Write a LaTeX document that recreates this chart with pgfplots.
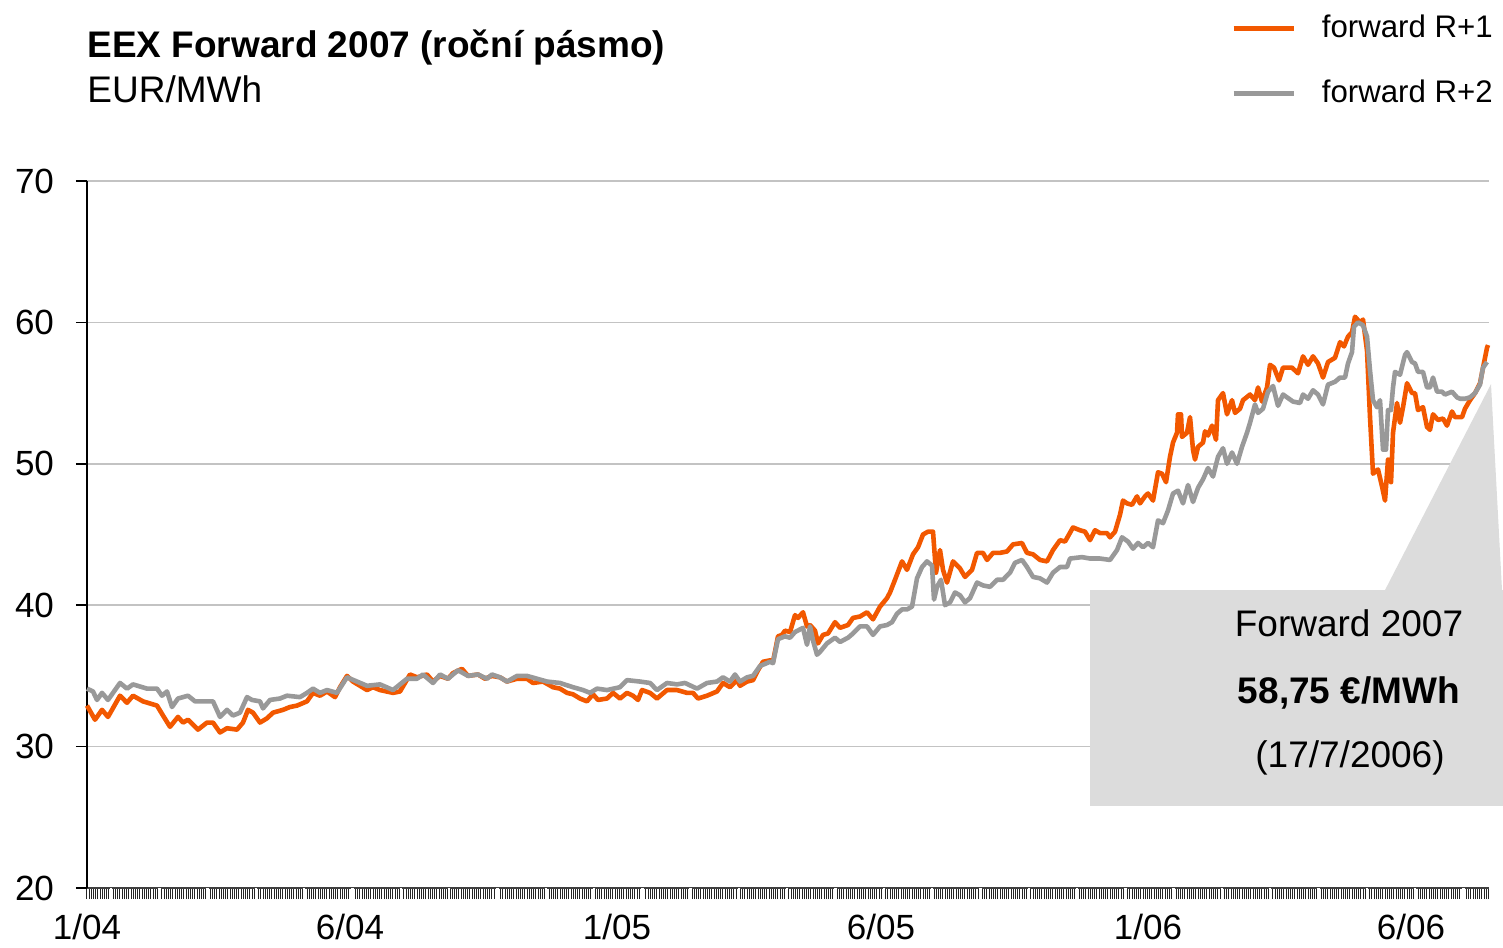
\documentclass[border=0pt]{standalone}
\usepackage{pgfplots}
\pgfplotsset{compat=1.18}
\usepackage{pgfplotstable}
\usepackage{fontspec}
\setmainfont{Liberation Sans}
\definecolor{fwdorange}{RGB}{242,88,0}
\definecolor{fwdgrey}{RGB}{153,153,153}
\definecolor{boxgrey}{RGB}{220,220,220}
\definecolor{gridgrey}{RGB}{195,195,195}

% x = trading-day position along the axis (index scale), y = EUR/MWh
\pgfplotstableread{
x y
87 32.9
95 31.9
102 32.6
108 32.1
120 33.6
127 33.1
133 33.6
143 33.2
157 32.9
163 32.2
170 31.4
178 32.1
183 31.7
188 31.9
198 31.2
207 31.7
213 31.7
220 31.0
227 31.3
237 31.2
243 31.7
248 32.6
253 32.4
260 31.7
267 32.0
273 32.4
283 32.6
290 32.8
297 32.9
307 33.2
313 33.8
320 33.6
327 33.9
335 33.5
340 34.2
347 35.0
353 34.6
367 34.0
373 34.2
380 34.0
393 33.8
400 33.9
410 35.1
417 34.9
427 35.1
433 34.6
440 35.0
448 34.8
453 35.2
462 35.5
468 35.0
478 35.1
485 34.8
492 35.0
500 34.9
507 34.6
517 34.8
527 34.8
533 34.5
543 34.6
553 34.2
560 34.1
567 33.8
573 33.7
580 33.4
587 33.2
593 33.7
598 33.3
607 33.4
613 33.8
620 33.4
627 33.8
633 33.6
638 33.3
642 34.0
650 33.8
657 33.4
667 34.0
677 34.0
687 33.8
693 33.8
698 33.4
707 33.6
717 33.9
723 34.5
730 34.2
737 34.7
740 34.3
747 34.6
753 34.7
758 35.4
763 36.0
770 36.1
773 36.0
778 37.8
782 37.9
785 38.2
790 38.1
795 39.3
798 39.1
803 39.5
807 38.5
810 38.6
815 38.2
818 37.3
823 37.9
828 38.0
835 38.8
840 38.4
848 38.6
853 39.1
860 39.2
867 39.5
873 39.0
880 39.9
887 40.5
890 40.9
895 41.8
902 43.1
907 42.5
913 43.6
918 44.1
923 45.0
928 45.2
933 45.2
936 42.3
940 43.9
943 42.5
947 41.6
953 43.1
960 42.6
965 42.0
972 42.5
977 43.7
983 43.7
987 43.2
993 43.7
1000 43.7
1007 43.8
1013 44.3
1022 44.4
1027 43.7
1033 43.6
1040 43.2
1047 43.1
1053 43.9
1060 44.6
1065 44.5
1069 45.0
1073 45.5
1080 45.3
1085 45.2
1090 44.6
1095 45.3
1100 45.1
1107 45.1
1110 44.8
1115 45.2
1120 46.4
1123 47.4
1127 47.2
1132 47.1
1137 47.7
1140 47.2
1145 47.7
1148 47.9
1153 47.4
1158 49.4
1162 49.3
1166 48.7
1170 50.5
1173 51.5
1177 52.2
1178 53.5
1181 53.5
1182 51.9
1187 52.2
1190 53.3
1193 51.0
1195 50.3
1198 51.2
1203 51.5
1205 52.3
1208 52.0
1212 52.7
1216 51.7
1218 54.5
1223 55.0
1227 53.5
1232 54.5
1235 53.6
1240 53.9
1243 54.5
1250 54.9
1255 54.5
1258 55.4
1262 54.4
1267 55.4
1270 57.0
1274 56.8
1279 55.9
1283 56.8
1292 56.8
1298 56.4
1303 57.6
1308 57.0
1313 57.6
1318 57.1
1323 56.1
1328 57.2
1335 57.5
1340 58.6
1344 58.3
1348 59.0
1352 59.3
1355 60.4
1360 60.0
1363 60.2
1367 58.0
1370 53.3
1373 49.3
1378 49.6
1382 48.4
1385 47.4
1388 50.3
1391 48.7
1393 52.2
1397 54.3
1400 52.9
1403 54.0
1407 55.7
1412 55.0
1415 55.0
1418 53.8
1423 54.0
1427 52.6
1430 52.4
1433 53.5
1438 53.1
1443 53.2
1447 52.7
1452 53.7
1455 53.3
1462 53.3
1465 53.9
1470 54.5
1475 55.0
1480 55.7
1483 56.8
1487 58.2
1488 58.4
}\rone

\pgfplotstableread{
x y
87 34.1
93 33.9
97 33.3
102 33.8
108 33.3
120 34.5
127 34.1
133 34.4
147 34.1
157 34.1
162 33.6
167 33.9
172 32.8
178 33.4
188 33.6
195 33.2
205 33.2
213 33.2
220 32.1
227 32.6
233 32.2
240 32.4
247 33.5
252 33.3
260 33.2
263 32.7
270 33.3
280 33.4
287 33.6
300 33.5
307 33.8
313 34.1
320 33.8
327 34.0
337 33.8
347 34.9
357 34.6
367 34.3
380 34.4
393 34.0
407 34.8
417 34.8
423 35.1
433 34.5
440 35.1
448 34.8
458 35.4
468 35.0
478 35.1
487 34.8
492 35.1
500 34.9
507 34.6
517 35.0
527 35.0
537 34.8
547 34.6
560 34.5
573 34.2
583 34.0
590 33.8
597 34.1
607 34.0
620 34.2
627 34.7
640 34.6
650 34.5
657 34.0
667 34.5
677 34.4
685 34.5
697 34.1
707 34.5
717 34.6
723 34.9
730 34.6
735 35.1
740 34.6
747 34.9
753 35.0
760 35.7
770 36.0
773 35.9
778 37.6
785 37.8
790 37.7
795 38.1
803 38.4
807 37.2
810 38.5
813 37.5
817 36.5
820 36.7
827 37.3
835 37.7
840 37.4
848 37.7
853 38.0
860 38.5
867 38.5
873 37.9
880 38.5
887 38.6
892 38.8
897 39.4
902 39.7
907 39.7
912 39.9
917 41.9
922 42.7
927 43.1
932 42.8
934 40.4
937 41.3
941 41.8
945 40.0
950 40.2
955 40.9
960 40.7
965 40.2
970 40.5
977 41.6
983 41.4
990 41.3
997 41.8
1003 41.8
1010 42.3
1015 43.0
1022 43.2
1027 42.7
1033 42.0
1040 41.9
1047 41.6
1053 42.3
1060 42.7
1067 42.7
1070 43.3
1082 43.4
1090 43.3
1100 43.3
1110 43.2
1117 43.9
1122 44.8
1128 44.5
1133 44.0
1138 44.4
1143 44.1
1148 44.4
1153 44.1
1158 46.0
1163 45.8
1168 46.7
1173 47.9
1178 48.1
1183 47.2
1188 48.5
1193 47.3
1198 48.3
1203 48.9
1208 49.7
1213 49.1
1218 50.5
1223 51.1
1227 50.0
1232 50.8
1237 50.0
1242 51.2
1247 52.2
1250 52.9
1255 54.2
1258 53.6
1263 53.9
1268 55.1
1273 55.5
1278 54.1
1283 54.9
1293 54.4
1300 54.3
1303 54.9
1308 54.6
1313 55.2
1318 54.9
1323 54.2
1328 55.6
1335 55.8
1340 56.1
1345 56.1
1348 57.1
1352 57.9
1354 59.7
1358 60.0
1363 59.8
1367 59.0
1370 56.6
1373 54.5
1377 54.0
1380 54.5
1383 51.0
1386 51.0
1388 53.8
1391 53.8
1393 55.4
1395 56.5
1400 56.3
1405 57.7
1407 57.9
1412 57.2
1415 57.1
1418 56.5
1423 56.5
1427 55.4
1430 55.4
1433 56.1
1437 55.1
1442 55.1
1445 54.9
1452 55.1
1457 54.7
1460 54.6
1465 54.6
1470 54.7
1475 55.0
1480 55.6
1483 56.8
1487 57.2
}\rtwo

\begin{document}
\begin{tikzpicture}
\begin{axis}[
  at={(0pt,0pt)}, anchor=south west,
  scale only axis, width=701pt, height=353.5pt,
  xmin=87, xmax=1489, ymin=20, ymax=70,
  clip=false,
  axis lines*=left,
  x axis line style={black!75, line width=0.9pt},
  y axis line style={black, line width=0.8pt},
  ytick={20,30,...,70},
  ymajorgrids, grid style={gridgrey, line width=0.8pt},
  tick align=outside,
  major tick length=5.5pt,
  minor tick length=5.6pt,
  y tick style={black, line width=0.8pt},
  xtick={87,350,617,881,1148,1411},
  xticklabels={1/04,6/04,1/05,6/05,1/06,6/06},
  major x tick style={draw=none},
  minor xtick={87,89.2,...,1489},
  minor x tick style={black!85, line width=0.5pt},
  extra x ticks={111,159.3,...,1464},
  extra x tick labels={},
  extra x tick style={grid=none, major x tick style={draw=white, line width=1.2pt}},
  tick label style={font=\fontsize{17.5}{21}\selectfont},
  /pgf/number format/assume math mode=true,
  yticklabel style={xshift=-7.5pt},
  xticklabel style={yshift=-4pt},
  legend style={at={(rel axis cs:0.8160,1.2353)}, anchor=north west,
    draw=none, fill=none, inner sep=0pt, outer sep=0pt,
    font=\fontsize{15.6}{18}\selectfont, row sep=18.3pt,
    nodes={inner sep=0pt, text height=11.2pt, text depth=3pt}},
  legend cell align=left,
  legend image code/.code={\draw[#1, line width=2.5pt] (0pt,0pt) -- (30pt,0pt); \path (43pt,0pt);},
]
\fill[boxgrey] (axis cs:1090,25.80) -- (axis cs:1090,41.07) -- (axis cs:1385,41.07)
  -- (axis cs:1491,55.64) -- (axis cs:1502,41.07) -- (axis cs:1515,41.07)
  -- (axis cs:1515,25.80) -- cycle;
\addplot[fwdorange, line width=2.3pt, line join=round] table[x=x,y=y] {\rone};
\addlegendentry{forward R+1}
\addplot[fwdgrey, line width=2.3pt, line join=round] table[x=x,y=y] {\rtwo};
\addlegendentry{forward R+2}
\node[anchor=base, font=\fontsize{18.5}{22}\selectfont] at (axis cs:1349,37.82) {Forward 2007};
\node[anchor=base, font=\fontsize{18.5}{22}\selectfont\bfseries] at (axis cs:1349,33.08) {58,75 €/MWh};
\node[anchor=base, font=\fontsize{18.5}{22}\selectfont] at (axis cs:1350,28.49) {(17/7/2006)};
\end{axis}
\node[anchor=base west, inner sep=0pt, font=\fontsize{18.5}{22}\selectfont\bfseries] at (0pt,415pt) {EEX Forward 2007 (roční pásmo)};
\node[anchor=base west, inner sep=0pt, font=\fontsize{18.5}{22}\selectfont] at (0pt,392.5pt) {EUR/MWh};
\pgfresetboundingbox
\path[use as bounding box] (-43.5pt,-29.5pt) rectangle (708pt,444pt);
\end{tikzpicture}
\end{document}
